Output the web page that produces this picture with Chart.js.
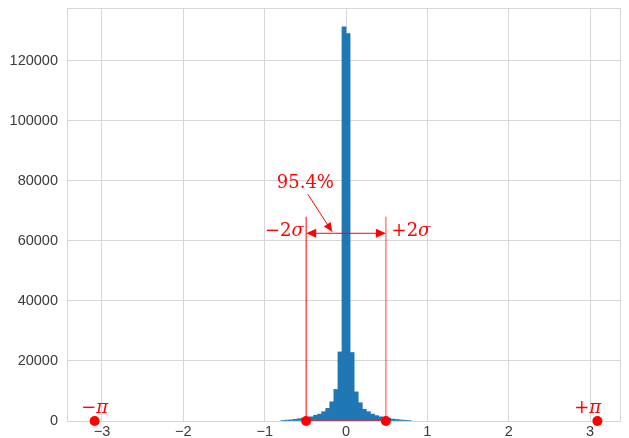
<!DOCTYPE html>
<html>
<head>
<meta charset="utf-8">
<script src="https://cdn.jsdelivr.net/npm/chart.js@4/dist/chart.umd.min.js"></script>
<style>
  html, body { margin: 0; padding: 0; background: #fff; }
  #wrap { width: 629px; height: 438px; }
</style>
</head>
<body>
<div id="wrap"><canvas id="histChart" width="629" height="438"></canvas></div>
<script>
// histogram bins (left edges, width 0.05) and counts
const binWidth = 0.05;
const binLefts = [-0.80, -0.75, -0.70, -0.65, -0.60, -0.55, -0.50, -0.45,
                  -0.40, -0.35, -0.30, -0.25, -0.20, -0.15, -0.10, -0.05,
                   0.00,  0.05,  0.10,  0.15,  0.20,  0.25,  0.30,  0.35,
                   0.40,  0.45,  0.50,  0.55,  0.60,  0.65,  0.70,  0.75];
const counts = [200, 300, 400, 550, 750, 1000, 1200, 1400,
                1900, 2300, 3100, 4200, 6400, 10500, 23000, 131200,
                129000, 22800, 9700, 6100, 3900, 3100, 2300, 1800,
                1400, 1100, 900, 650, 500, 350, 250, 200];

// axes
const xMin = -3.43, xMax = 3.38;
const xTicks = [-3, -2, -1, 0, 1, 2, 3];
const yMax = 137500;
const yTicks = [0, 20000, 40000, 60000, 80000, 100000, 120000];

// annotations
const twoSigma = 0.49;
const sigmaLineTop = 68000;
const arrowY = 62500;
const piMarks = [-3.09, 3.09];
const labels = [
  { text: '95.4%', x: -0.50, y: 79000, align: 'center' },
  { text: '\u22122\u03c3', x: -0.52, y: 63200, align: 'right' },
  { text: '+2\u03c3', x: 0.56, y: 63200, align: 'left' },
  { text: '\u2212\u03c0', x: -3.09, y: 4300, align: 'center' },
  { text: '+\u03c0', x: 2.97, y: 4300, align: 'center' }
];
const pointer = { from: [-0.47, 75500], to: [-0.17, 63000] };

const RED = '#ff0000';
const GRID = '#d6d6d6';

const annotationPlugin = {
  id: 'annotations',
  afterDatasetsDraw(chart) {
    const { ctx, scales: { x, y } } = chart;
    ctx.save();
    ctx.fillStyle = RED;
    ctx.strokeStyle = RED;
    ctx.lineWidth = 1;

    function head(tx, ty, angle, len, half) {
      ctx.beginPath();
      ctx.moveTo(tx, ty);
      ctx.lineTo(tx - len * Math.cos(angle) + half * Math.sin(angle), ty - len * Math.sin(angle) - half * Math.cos(angle));
      ctx.lineTo(tx - len * Math.cos(angle) - half * Math.sin(angle), ty - len * Math.sin(angle) + half * Math.cos(angle));
      ctx.closePath();
      ctx.fill();
    }

    // arrowheads of the -2σ .. +2σ arrow (shaft is a dataset)
    const ax1 = x.getPixelForValue(-twoSigma), ax2 = x.getPixelForValue(twoSigma);
    const ay = y.getPixelForValue(arrowY);
    head(ax1, ay, Math.PI, 10, 4.5);
    head(ax2, ay, 0, 10, 4.5);

    // pointer from the percentage label
    const px1 = x.getPixelForValue(pointer.from[0]), py1 = y.getPixelForValue(pointer.from[1]);
    const px2 = x.getPixelForValue(pointer.to[0]), py2 = y.getPixelForValue(pointer.to[1]);
    ctx.beginPath();
    ctx.moveTo(px1, py1); ctx.lineTo(px2, py2); ctx.stroke();
    head(px2, py2, Math.atan2(py2 - py1, px2 - px1), 9, 4);

    // text
    ctx.textBaseline = 'middle';
    labels.forEach(l => {
      ctx.font = '18px "DejaVu Serif"';
      ctx.textAlign = l.align;
      const lx = x.getPixelForValue(l.x), ly = y.getPixelForValue(l.y);
      if (l.text.includes('\u03c3') || l.text.includes('\u03c0')) {
        // greek letter in italics
        const lead = l.text.slice(0, -1), tail = l.text.slice(-1);
        ctx.font = '18px "DejaVu Serif"';
        const w1 = ctx.measureText(lead).width;
        ctx.font = 'italic 18px "DejaVu Serif"';
        const w2 = ctx.measureText(tail).width;
        let start = lx;
        if (l.align === 'right') start = lx - w1 - w2;
        if (l.align === 'center') start = lx - (w1 + w2) / 2;
        ctx.textAlign = 'left';
        ctx.font = '18px "DejaVu Serif"';
        ctx.fillText(lead, start, ly);
        ctx.font = 'italic 18px "DejaVu Serif"';
        ctx.fillText(tail, start + w1, ly);
      } else {
        ctx.fillText(l.text, lx, ly);
      }
    });
    ctx.restore();
  }
};

const frameBorder = {
  id: 'frameBorder',
  beforeDatasetsDraw(chart) {
    const { ctx, chartArea: a } = chart;
    ctx.save();
    ctx.strokeStyle = GRID;
    ctx.lineWidth = 1;
    ctx.strokeRect(Math.round(a.left) + 0.5, Math.round(a.top) + 0.5,
                   Math.round(a.right - a.left) - 1, Math.round(a.bottom - a.top));
    ctx.restore();
  }
};

const ctx = document.getElementById('histChart').getContext('2d');

new Chart(ctx, {
  type: 'bar',
  data: {
    datasets: [
      {
        type: 'bar',
        data: binLefts.map((b, i) => ({ x: b + binWidth / 2, y: counts[i] })),
        backgroundColor: '#1f77b4',
        borderWidth: 0,
        barPercentage: 1,
        categoryPercentage: 1,
        order: 5
      },
      {
        type: 'line',
        data: [{ x: -twoSigma, y: 0 }, { x: -twoSigma, y: sigmaLineTop }],
        borderColor: RED, borderWidth: 1, pointRadius: 0, order: 3
      },
      {
        type: 'line',
        data: [{ x: twoSigma, y: 0 }, { x: twoSigma, y: sigmaLineTop }],
        borderColor: 'rgba(255,0,0,0.5)', borderWidth: 1.5, pointRadius: 0, order: 3
      },
      {
        type: 'line',
        data: [{ x: -twoSigma, y: 0 }, { x: twoSigma, y: 0 }],
        borderColor: RED, borderWidth: 1, pointRadius: 0, order: 2
      },
      {
        type: 'line',
        data: [{ x: -twoSigma + 0.1, y: arrowY }, { x: twoSigma - 0.1, y: arrowY }],
        borderColor: RED, borderWidth: 1, pointRadius: 0, order: 2
      },
      {
        type: 'line',
        data: [piMarks[0], -twoSigma, twoSigma, piMarks[1]].map(v => ({ x: v, y: 0 })),
        showLine: false,
        pointRadius: 5,
        pointBackgroundColor: RED,
        pointBorderWidth: 0,
        clip: false,
        order: 1
      }
    ]
  },
  options: {
    responsive: false,
    animation: false,
    layout: { padding: { top: 8, right: 8, left: 0, bottom: 0 } },
    plugins: { legend: { display: false }, tooltip: { enabled: false } },
    scales: {
      x: {
        type: 'linear',
        offset: false,
        min: xMin,
        max: xMax,
        afterBuildTicks: (scale) => { scale.ticks = xTicks.map(v => ({ value: v })); },
        afterFit: (scale) => { scale.height = 17; scale.paddingLeft = 0; scale.paddingRight = 0; },
        grid: { color: GRID, drawTicks: false, offset: false },
        border: { display: false },
        ticks: {
          padding: 2,
          color: '#3a3a3a',
          font: { family: '"Liberation Sans", Arial, sans-serif', size: 14.5 },
          callback: (v) => (v < 0 ? '\u2212' + Math.abs(v) : String(v))
        }
      },
      y: {
        min: 0,
        max: yMax,
        afterBuildTicks: (scale) => { scale.ticks = yTicks.map(v => ({ value: v })); },
        afterFit: (scale) => { scale.width = 67; scale.paddingTop = 0; scale.paddingBottom = 0; },
        grid: { color: GRID, drawTicks: false },
        border: { display: false },
        ticks: {
          padding: 9,
          color: '#3a3a3a',
          font: { family: '"Liberation Sans", Arial, sans-serif', size: 14.5 },
          callback: (v) => String(v)
        }
      }
    }
  },
  plugins: [frameBorder, annotationPlugin]
});
</script>
</body>
</html>
